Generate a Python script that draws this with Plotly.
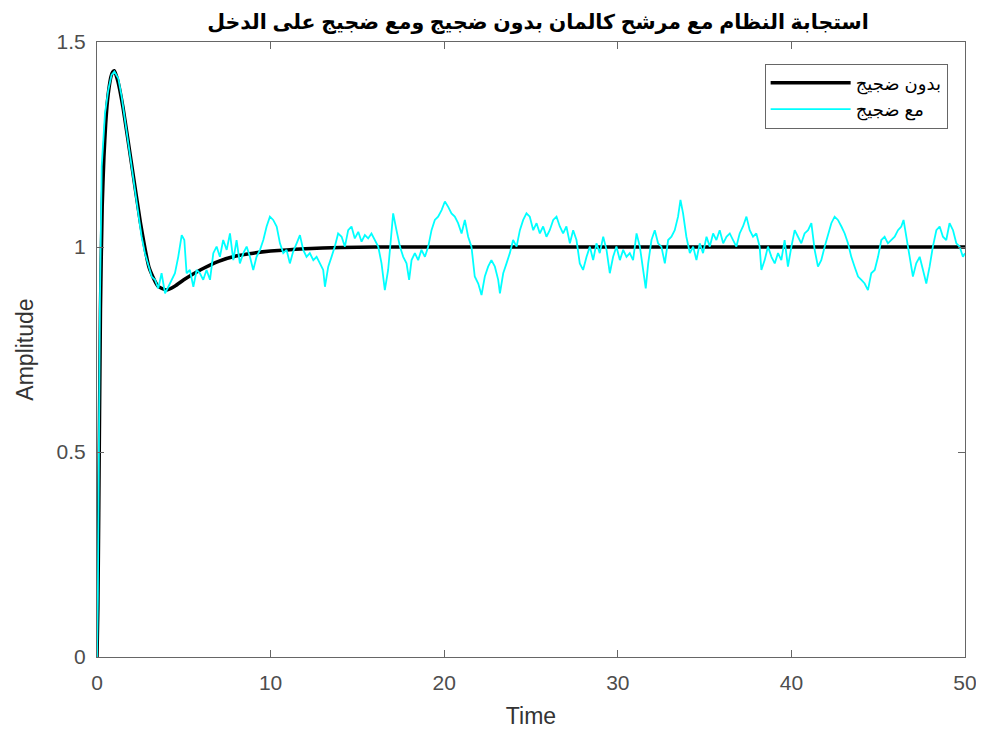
import plotly.graph_objects as go

# Reference (noise-free) step response
t_clean = [0, 0.05, 0.1, 0.2, 0.3, 0.4, 0.5, 0.6, 0.7, 0.8, 0.9, 1.0, 1.2, 1.5, 2.0, 2.5, 3.0,
           3.5, 4.0, 4.5, 5.0, 6.0, 7.0, 8.0, 9.0, 10.0, 12.0, 14.0, 16.0, 20.0, 30.0, 40.0, 50.0]
y_clean = [0, 0.12, 0.35, 0.85, 1.10, 1.22, 1.30, 1.355, 1.39, 1.415, 1.427, 1.43, 1.405, 1.34,
           1.20, 1.06, 0.95, 0.905, 0.895, 0.905, 0.92, 0.945, 0.965, 0.978, 0.985, 0.99,
           0.996, 0.999, 1.0, 1.0, 1.0, 1.0, 1.0]

# Response with input noise
t_noisy = [0, 0.05, 0.1, 0.17, 0.27, 0.46, 0.65, 0.84, 1.0, 1.23, 1.42, 1.61, 1.80, 2.0, 2.19,
           2.38, 2.57, 2.76, 2.96, 3.15, 3.34, 3.53, 3.72, 3.92, 4.11, 4.30, 4.49, 4.68, 4.88,
           5.03, 5.16, 5.35, 5.55, 5.74, 5.93, 6.12, 6.31, 6.51, 6.70, 6.89, 7.08, 7.27, 7.47,
           7.66, 7.85, 8.04, 8.23, 8.43, 8.62, 8.81, 9.00, 9.19, 9.39, 9.58, 9.77, 9.96, 10.15,
           10.35, 10.54, 10.73,
           10.92, 11.11, 11.30, 11.50, 11.69, 11.88, 12.07, 12.26, 12.46, 12.65, 12.84, 13.03,
           13.13, 13.32, 13.51, 13.70, 13.89, 14.09, 14.28, 14.47, 14.66, 14.85, 15.05, 15.24,
           15.43, 15.62, 15.81, 16.01, 16.20, 16.39, 16.58, 16.77, 16.97, 17.06, 17.25, 17.45,
           17.64, 17.83, 17.98, 18.12, 18.31, 18.50, 18.69, 18.89, 19.08, 19.27, 19.46, 19.65,
           19.85, 20.04, 20.23, 20.42, 20.61, 20.80, 21.00, 21.19, 21.38, 21.57, 21.76, 21.96,
           22.15, 22.34, 22.53, 22.72, 22.92, 23.11,
           23.21, 23.40, 23.59, 23.78, 23.97, 24.17, 24.36, 24.55, 24.74, 24.93, 25.13, 25.32,
           25.51, 25.70, 25.89, 26.08, 26.28, 26.47, 26.66, 26.85, 27.04, 27.24, 27.43, 27.62,
           27.81, 28.00, 28.20, 28.39, 28.58, 28.77, 28.96, 29.16, 29.35, 29.54, 29.73, 29.92,
           30.12, 30.31, 30.50, 30.69, 30.88, 31.08, 31.27, 31.46, 31.61, 31.75, 31.94, 32.13,
           32.32, 32.51, 32.71, 32.90, 33.09, 33.28, 33.47, 33.61, 33.76, 33.95, 34.15, 34.34,
           34.53, 34.72, 34.91, 35.11, 35.30, 35.49, 35.68, 35.87, 36.07, 36.26, 36.45,
           36.64, 36.83, 37.02, 37.21, 37.41, 37.60, 37.79, 37.98, 38.17, 38.27, 38.46, 38.65,
           38.85, 39.04, 39.23, 39.42, 39.61, 39.80, 40.00, 40.19, 40.38, 40.57, 40.76, 40.96,
           41.15, 41.34, 41.53, 41.72, 41.92, 42.11, 42.30, 42.49, 42.68, 42.88, 43.07, 43.26,
           43.45, 43.64, 43.84, 44.03, 44.22, 44.41, 44.60, 44.80, 44.99, 45.18, 45.37, 45.56,
           45.75, 45.95, 46.14, 46.33, 46.46, 46.62, 46.81, 47.00, 47.19, 47.39, 47.58, 47.77,
           47.96, 48.15, 48.35, 48.54, 48.73, 48.92, 49.11, 49.31, 49.50, 49.69, 49.88, 50.0]
y_noisy = [0, 0.15, 0.45, 0.87, 1.196, 1.326, 1.383, 1.420, 1.428, 1.411, 1.367, 1.310, 1.257,
           1.200, 1.143, 1.082, 1.025, 0.985, 0.952, 0.928, 0.920, 0.899, 0.936, 0.887, 0.903,
           0.920, 0.936, 0.976, 1.029, 1.017, 0.936, 0.944, 0.903, 0.944, 0.936, 0.920, 0.944,
           0.920, 0.985, 1.001, 0.976, 1.017, 0.993, 1.033, 0.968, 1.017, 0.960, 0.985, 1.001,
           0.976, 0.944, 0.976, 0.993, 1.017, 1.050, 1.074, 1.066, 1.050, 1.009, 0.985,
           0.993, 0.960, 0.989, 1.009, 1.029, 0.993, 0.976, 0.985, 0.968, 0.976, 0.960, 0.944,
           0.903, 0.952, 0.976, 1.001, 1.033, 1.025, 1.001, 1.041, 1.050, 1.021, 1.037, 1.013,
           1.029, 1.021, 1.033, 1.017, 1.001, 0.960, 0.895, 0.944, 1.050, 1.082, 1.041, 1.001,
           0.976, 0.960, 0.920, 0.968, 0.985, 0.968, 0.993, 0.976, 1.001, 1.041, 1.066, 1.074,
           1.090, 1.111, 1.098, 1.082, 1.074, 1.058, 1.033, 1.066, 1.025, 1.001, 0.928, 0.911,
           0.883, 0.928, 0.952, 0.968, 0.952, 0.920,
           0.887, 0.936, 0.960, 0.985, 1.017, 1.001, 1.041, 1.066, 1.082, 1.074, 1.041, 1.058,
           1.033, 1.050, 1.025, 1.041, 1.066, 1.074, 1.050, 1.033, 1.050, 1.009, 1.041, 1.017,
           0.960, 0.944, 0.976, 1.001, 0.968, 1.009, 0.985, 1.025, 0.993, 0.936, 0.976, 1.001,
           0.968, 0.993, 0.976, 0.985, 0.968, 1.033, 1.001, 0.936, 0.899, 0.960, 1.017, 1.041,
           1.009, 1.001, 0.960, 1.017, 1.025, 1.041, 1.074, 1.115, 1.082, 1.025, 0.985, 1.001,
           0.968, 1.009, 0.985, 1.025, 1.001, 1.033, 1.017, 1.041, 1.009, 1.025, 1.033,
           1.017, 1.001, 1.033, 1.050, 1.074, 1.041, 1.025, 1.033, 1.001, 0.944, 0.968, 1.001,
           0.976, 0.960, 0.985, 0.968, 1.017, 0.952, 1.001, 1.041, 1.025, 1.009, 1.033, 1.041,
           1.058, 0.993, 0.952, 0.968, 1.001, 1.033, 1.058, 1.074, 1.066, 1.050, 1.033, 1.009,
           0.976, 0.952, 0.928, 0.920, 0.911, 0.895, 0.936, 0.944, 0.976, 1.017, 1.025, 1.009,
           1.017, 1.025, 1.041, 1.050, 1.066, 1.025, 0.985, 0.928, 0.960, 0.976, 0.944, 0.911,
           0.952, 1.001, 1.041, 1.050, 1.025, 1.017, 1.058, 1.041, 1.009, 1.001, 0.976, 0.985]

x_ticks = [0, 10, 20, 30, 40, 50]
y_ticks = [0, 0.5, 1, 1.5]
y_tick_labels = ["0", "0.5", "1", "1.5"]

title_text = "استجابة النظام مع مرشح كالمان بدون ضجيج ومع ضجيج على الدخل"
name_clean = "بدون ضجيج"
name_noisy = "مع ضجيج"

FONT = "Liberation Sans, Arial, DejaVu Sans, sans-serif"
TICK_COLOR = "#4d4d4d"

fig = go.Figure()
fig.add_trace(go.Scatter(x=t_clean, y=y_clean, mode="lines", name=name_clean,
                         line=dict(color="black", width=3.5, shape="spline", smoothing=0.5)))
fig.add_trace(go.Scatter(x=t_noisy, y=y_noisy, mode="lines", name=name_noisy,
                         line=dict(color="#00FFFF", width=1.8)))

axis_common = dict(showline=True, linecolor="#666666", linewidth=1, mirror="ticks",
                   ticks="inside", ticklen=7, tickcolor="#666666", showgrid=False,
                   zeroline=False, automargin=False,
                   tickfont=dict(family=FONT, size=21, color=TICK_COLOR))

fig.update_layout(
    width=976, height=721,
    margin=dict(l=89, r=19, t=34, b=72),
    paper_bgcolor="white", plot_bgcolor="white",
    title=dict(text="<b>" + title_text + "</b>", x=0.543, xanchor="center", y=0.981,
               yanchor="middle", font=dict(family=FONT, size=20.5, color="black")),
    xaxis=dict(range=[0, 50], tickvals=x_ticks, ticklabelstandoff=7,
               title=dict(text="Time", font=dict(family=FONT, size=23, color="#333333"),
                          standoff=14),
               **axis_common),
    yaxis=dict(range=[0, 1.5], tickvals=y_ticks, ticktext=y_tick_labels,
               ticklabelstandoff=6,
               title=dict(text="Amplitude", font=dict(family=FONT, size=23, color="#333333"),
                          standoff=16),
               **axis_common),
    legend=dict(x=0.98, y=0.965, xanchor="right", yanchor="top",
                bgcolor="white", bordercolor="#666666", borderwidth=1,
                font=dict(family=FONT, size=18, color="black"),
                itemwidth=80, tracegroupgap=0),
    showlegend=True,
)

fig.write_html("out.html")
